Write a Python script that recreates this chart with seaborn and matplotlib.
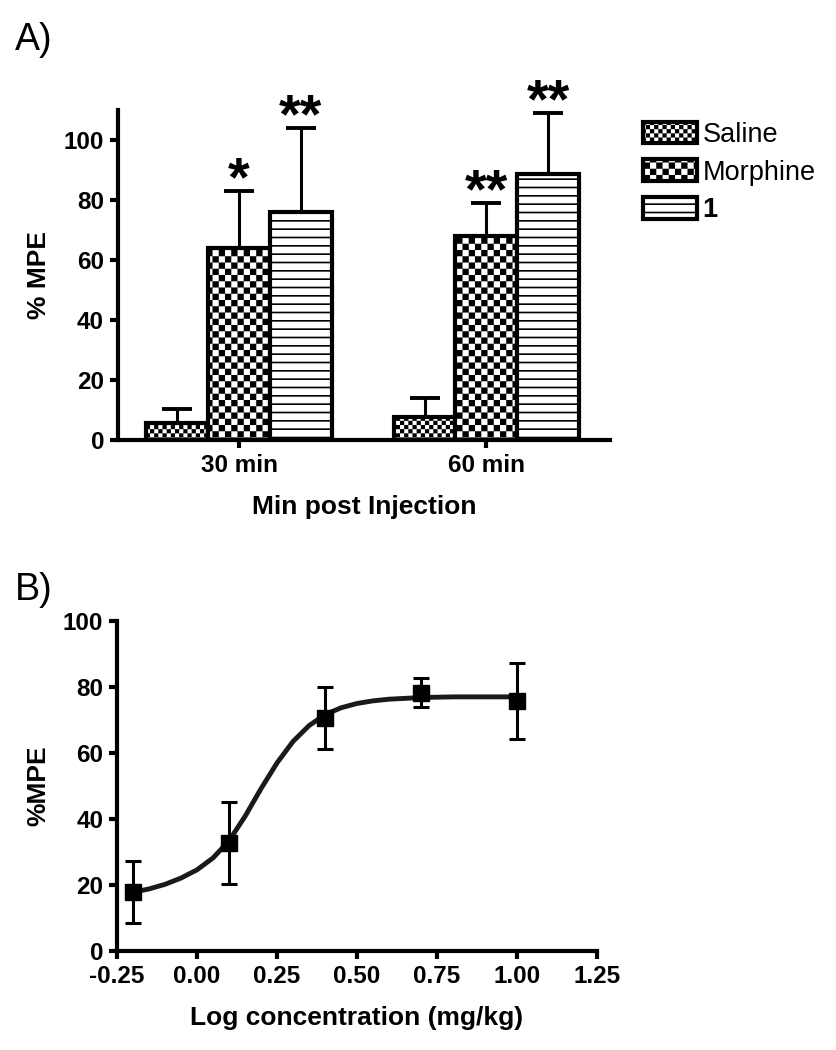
import matplotlib
matplotlib.use("Agg")
import matplotlib.pyplot as plt
import matplotlib.hatch as mhatch
import matplotlib.patches as mpatches
from matplotlib.path import Path
import numpy as np
import pandas as pd
import seaborn as sns

# panel A: %MPE by time point and treatment (mean and upper SEM)
times = ["30 min", "60 min"]
treatments = ["Saline", "Morphine", "1"]
mpe_30 = [5.5, 64, 76]
mpe_60 = [7.5, 68, 88.5]
sem_30 = [4.7, 19, 28]
sem_60 = [6.4, 11, 20.5]
stars_30 = ["", "*", "**"]
stars_60 = ["", "**", "**"]

# panel B: dose response
dose_x = [-0.2, 0.1, 0.4, 0.7, 1.0]
dose_y = [18.0, 32.7, 70.6, 78.2, 75.8]
dose_err = [9.4, 12.3, 9.4, 4.4, 11.5]
curve_x = [-0.20, -0.15, -0.10, -0.05, 0.00, 0.05, 0.10, 0.15, 0.20, 0.25, 0.30,
           0.35, 0.40, 0.45, 0.50, 0.55, 0.60, 0.70, 0.80, 0.90, 1.00]
curve_y = [17.8, 18.8, 20.2, 22.1, 24.6, 28.2, 33.4, 40.8, 49.2, 57.0, 63.5,
           68.3, 71.6, 73.7, 75.0, 75.8, 76.3, 76.8, 77.0, 77.0, 77.0]


class CheckerHatch(mhatch.HatchPatternBase):
    # 'o' -> fine checkerboard, 'O' -> coarse checkerboard
    def __init__(self, hatch, density):
        self.cells = hatch.count("o") * 24 + hatch.count("O") * 16
        self.num_vertices = self.cells * self.cells // 2 * 5

    def set_vertices_and_codes(self, vertices, codes):
        c = 1.0 / self.cells
        m = 0.008
        square = np.array([[m, m], [c - m, m], [c - m, c - m], [m, c - m], [m, m]])
        cells = [(i, j) for i in range(self.cells) for j in range(self.cells) if (i + j) % 2 == 0]
        vertices[:] = np.concatenate([square + [i * c, j * c] for i, j in cells])
        codes[:] = np.tile([Path.MOVETO, Path.LINETO, Path.LINETO, Path.LINETO, Path.CLOSEPOLY], len(cells))


mhatch._hatch_types = [mhatch.HorizontalHatch, mhatch.VerticalHatch,
                       mhatch.NorthEastHatch, mhatch.SouthEastHatch, CheckerHatch]

sns.set_style("ticks")
plt.rcParams["font.family"] = ["Liberation Sans", "DejaVu Sans"]
plt.rcParams["axes.unicode_minus"] = False
plt.rcParams["hatch.linewidth"] = 1.2
plt.rcParams["hatch.color"] = "black"
for key in ("text.color", "axes.labelcolor", "xtick.color", "ytick.color", "axes.edgecolor"):
    plt.rcParams[key] = "black"

hatches = ["o", "O", "--"]
tick_size = 17.5

fig = plt.figure(figsize=(8.36, 10.5), dpi=100)
axa = fig.add_axes([0.1411, 0.5810, 0.5885, 0.3143])
axb = fig.add_axes([0.1400, 0.0943, 0.5742, 0.3143])

for ax in (axa, axb):
    for side in ("top", "right"):
        ax.spines[side].set_visible(False)
    for side in ("left", "bottom"):
        ax.spines[side].set_linewidth(3)
    ax.tick_params(width=3, length=6, labelsize=tick_size, pad=4)

# ---- panel A ----
df = pd.DataFrame({
    "time": [t for t in times for _ in treatments],
    "treatment": treatments * len(times),
    "mpe": mpe_30 + mpe_60,
})
sns.barplot(data=df, x="time", y="mpe", hue="treatment", order=times, hue_order=treatments,
            palette=["white"] * 3, edgecolor="black", linewidth=3, width=0.75,
            errorbar=None, legend=False, ax=axa)

sems = [[sem_30[i], sem_60[i]] for i in range(3)]
means = [[mpe_30[i], mpe_60[i]] for i in range(3)]
stars = [[stars_30[i], stars_60[i]] for i in range(3)]
bar_containers = list(axa.containers)
for k, cont in enumerate(bar_containers):
    xs = [p.get_x() + p.get_width() / 2 for p in cont.patches]
    for p in cont.patches:
        p.set_hatch(hatches[k])
    axa.errorbar(xs, means[k], yerr=[[0, 0], sems[k]], fmt="none", ecolor="black",
                 elinewidth=2.2, capsize=11, capthick=2.8, zorder=3)
    for x, m, s, st in zip(xs, means[k], sems[k], stars[k]):
        if st:
            axa.annotate(st, (x, m + s), xytext=(0, -3), textcoords="offset points",
                         ha="center", va="baseline", fontsize=40, fontweight="bold",
                         annotation_clip=False)

axa.set_xlim(-0.49, 1.50)
axa.set_ylim(0, 110)
axa.set_yticks([0, 20, 40, 60, 80, 100])
axa.set_xlabel("Min post Injection", fontsize=19, fontweight="bold", labelpad=13)
axa.set_ylabel("% MPE", fontsize=19, fontweight="bold", labelpad=9)
for lab in axa.get_xticklabels() + axa.get_yticklabels():
    lab.set_fontweight("bold")
    lab.set_fontsize(tick_size)

handles = [mpatches.Patch(facecolor="white", edgecolor="black", linewidth=3, hatch=h, label=t)
           for h, t in zip(hatches, treatments)]
leg = fig.legend(handles=handles, loc="upper left", bbox_to_anchor=(0.769, 0.884),
                 frameon=False, fontsize=19.5, handlelength=2.0, handleheight=0.85,
                 handletextpad=0.2, labelspacing=0.42, borderpad=0, borderaxespad=0)
leg.get_texts()[-1].set_fontweight("bold")

# ---- panel B ----
sns.lineplot(x=curve_x, y=curve_y, color="#1a1a1a", linewidth=3.5, ax=axb)
axb.errorbar(dose_x, dose_y, yerr=dose_err, fmt="s", color="black", markersize=11,
             elinewidth=2.2, capsize=5.5, capthick=2.2, zorder=3)
axb.set_xlim(-0.25, 1.25)
axb.set_ylim(0, 100)
axb.set_xticks([-0.25, 0.0, 0.25, 0.5, 0.75, 1.0, 1.25])
axb.set_xticklabels([f"{v:.2f}" for v in axb.get_xticks()])
axb.set_yticks([0, 20, 40, 60, 80, 100])
axb.set_xlabel("Log concentration (mg/kg)", fontsize=19, fontweight="bold", labelpad=13)
axb.set_ylabel("%MPE", fontsize=19, fontweight="bold", labelpad=9)
for lab in axb.get_xticklabels() + axb.get_yticklabels():
    lab.set_fontweight("bold")
    lab.set_fontsize(tick_size)

fig.text(0.018, 1 - 50 / 1050, "A)", fontsize=27, va="baseline")
fig.text(0.018, 1 - 600 / 1050, "B)", fontsize=27, va="baseline")

fig.savefig("out.png", dpi=100)
